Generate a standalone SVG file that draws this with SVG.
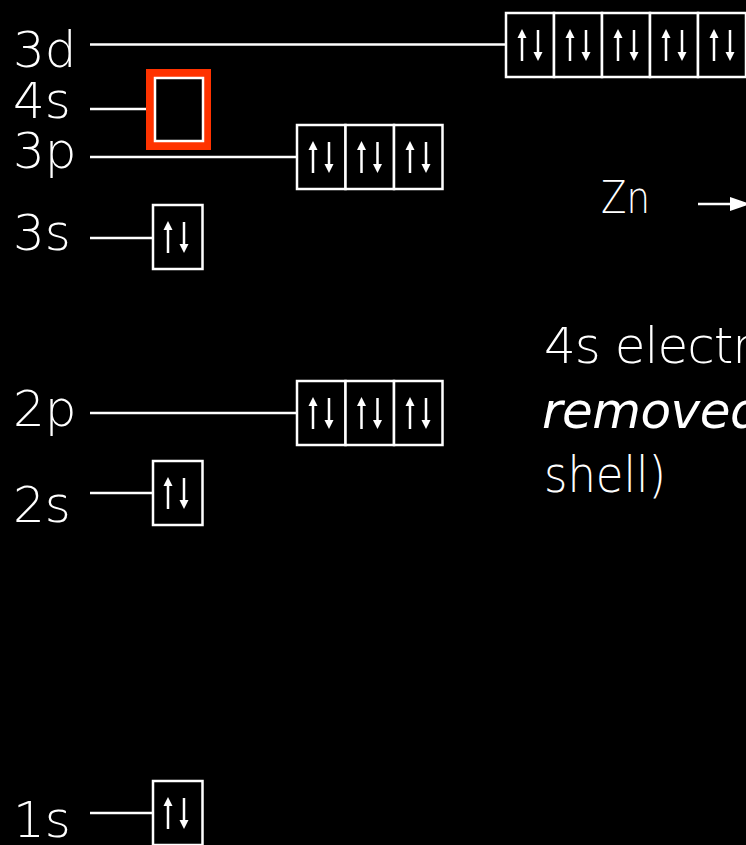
<svg xmlns="http://www.w3.org/2000/svg" xmlns:xlink="http://www.w3.org/1999/xlink" width="746" height="845" viewBox="0 0 746 845">
<style>
.lbl{font-family:"DejaVu Sans","Liberation Sans",sans-serif;font-weight:200;font-size:50px;fill:#fff}
.box{fill:#000;stroke:#fff;stroke-width:2.5}
.ln{stroke:#fff;stroke-width:2.5;fill:none}
</style>
<defs>
<g id="ud">
<line x1="0" y1="-8" x2="0" y2="16" stroke="#fff" stroke-width="2.5"/>
<polygon points="0,-16 4.5,-7 -4.5,-7" fill="#fff"/>
<line x1="16" y1="-15" x2="16" y2="8" stroke="#fff" stroke-width="2.5"/>
<polygon points="16,16 20.5,7 11.5,7" fill="#fff"/>
</g>
</defs>
<rect x="0" y="0" width="746" height="845" fill="#000"/>

<g id="connectors">
<line class="ln" x1="90" y1="44.5" x2="506" y2="44.5"/>
<line class="ln" x1="90" y1="109" x2="146" y2="109"/>
<line class="ln" x1="90" y1="157" x2="297" y2="157"/>
<line class="ln" x1="90" y1="238" x2="153" y2="238"/>
<line class="ln" x1="90" y1="413" x2="297" y2="413"/>
<line class="ln" x1="90" y1="493" x2="153" y2="493"/>
<line class="ln" x1="90" y1="813" x2="153" y2="813"/>
</g>

<g id="labels">
<text class="lbl" x="13" y="67">3d</text>
<text class="lbl" x="13" y="118">4s</text>
<text class="lbl" x="13" y="168">3p</text>
<text class="lbl" x="13" y="250">3s</text>
<text class="lbl" x="13" y="426">2p</text>
<text class="lbl" x="13" y="522">2s</text>
<text class="lbl" x="13" y="837">1s</text>
</g>

<g id="orb-3d">
<rect class="box" x="506" y="13" width="48" height="64"/>
<rect class="box" x="554" y="13" width="48" height="64"/>
<rect class="box" x="602" y="13" width="48" height="64"/>
<rect class="box" x="650" y="13" width="48" height="64"/>
<rect class="box" x="698" y="13" width="48" height="64"/>
<use xlink:href="#ud" x="522" y="45"/>
<use xlink:href="#ud" x="570" y="45"/>
<use xlink:href="#ud" x="618" y="45"/>
<use xlink:href="#ud" x="666" y="45"/>
<use xlink:href="#ud" x="714" y="45"/>
</g>

<g id="orb-4s">
<rect x="150" y="73" width="57" height="73" fill="none" stroke="#ff3300" stroke-width="8"/>
<rect class="box" x="155" y="78" width="48" height="63"/>
</g>

<g id="orb-3p">
<rect class="box" x="297" y="125" width="48.5" height="64"/>
<rect class="box" x="345.5" y="125" width="48.5" height="64"/>
<rect class="box" x="394" y="125" width="48.5" height="64"/>
<use xlink:href="#ud" x="313" y="157"/>
<use xlink:href="#ud" x="361.5" y="157"/>
<use xlink:href="#ud" x="410" y="157"/>
</g>

<g id="orb-3s">
<rect class="box" x="153" y="205" width="49.5" height="64"/>
<use xlink:href="#ud" x="168" y="237"/>
</g>

<g id="orb-2p">
<rect class="box" x="297" y="381" width="48.5" height="64"/>
<rect class="box" x="345.5" y="381" width="48.5" height="64"/>
<rect class="box" x="394" y="381" width="48.5" height="64"/>
<use xlink:href="#ud" x="313" y="413"/>
<use xlink:href="#ud" x="361.5" y="413"/>
<use xlink:href="#ud" x="410" y="413"/>
</g>

<g id="orb-2s">
<rect class="box" x="153" y="461" width="49.5" height="64"/>
<use xlink:href="#ud" x="168" y="493"/>
</g>

<g id="orb-1s">
<rect class="box" x="153" y="781" width="49.5" height="64"/>
<use xlink:href="#ud" x="168" y="813"/>
</g>

<g id="zn">
<text class="lbl" x="601" y="213" style="font-size:45px" textLength="49" lengthAdjust="spacingAndGlyphs">Zn</text>
<line x1="698" y1="204" x2="734" y2="204" stroke="#fff" stroke-width="2.5"/>
<polygon points="730,197 750,204 730,211" fill="#fff"/>
</g>

<g id="note">
<text class="lbl" x="544" y="363" style="letter-spacing:-1px">4s electrons</text>
<text class="lbl" x="542" y="428" style="font-style:italic;letter-spacing:-0.5px">removed</text>
<text class="lbl" x="544" y="492" textLength="122" lengthAdjust="spacingAndGlyphs">shell)</text>
</g>
</svg>
